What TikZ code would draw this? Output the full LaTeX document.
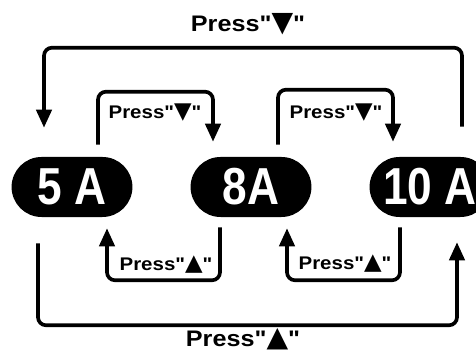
\documentclass[tikz,border=0pt]{standalone}
\usepackage{fontspec}
\setmainfont{Liberation Sans}
\newfontfamily\pillfont{Liberation Sans}[FakeStretch=0.85]
\newfontfamily\pressfont{Liberation Sans}[FakeStretch=1.12]
\newfontfamily\symfont{DejaVu Sans}
\usepackage{tikz}
\usetikzlibrary{arrows.meta}
\usetikzlibrary{positioning,shapes.misc}
\tikzset{
    amps/.style={
        rounded rectangle,
        fill=black,
        text=white,
        minimum width=3.02cm,
        minimum height=1.5cm,
        inner sep=0pt,
        font=\pillfont\bfseries\fontsize{37}{40}\selectfont
    },
    pressbig/.style={
        inner sep=0pt,
        font=\pressfont\bfseries\fontsize{16}{18}\selectfont
    },
    presssmall/.style={
        inner sep=0pt,
        font=\pressfont\bfseries\fontsize{13}{15}\selectfont
    },
    loopline/.style={
        draw,
        line width=2.6pt,
        rounded corners=0.2cm,
        -{Triangle[length=0.45cm, width=0.38cm]}
    }
}
\newcommand{\dn}{\scalebox{1.25}{\symfont\bfseries\char"25BC}}
\newcommand{\up}{\scalebox{1.25}{\symfont\bfseries\char"25B2}}

\begin{document}
\begin{tikzpicture}[x=0.025cm, y=-0.025cm] % one unit = one pixel of the reference
  \useasboundingbox (0,0) rectangle (476,352);

  % current settings
  \node[amps] (a5) at (72,187) {5 A};
  \node[amps] (a8) at (251,187) {8A};
  \node[amps] (a10) at (430,187) {10 A};

  % labels
  \node[pressbig] (ltop) at (248,24) {Press"\dn"};
  \node[presssmall] (ltop1) at (155,113) {Press"\dn"};
  \node[presssmall] (ltop2) at (336,113) {Press"\dn"};
  \node[presssmall] (lbot1) at (166,265) {Press"\up"};
  \node[presssmall] (lbot2) at (345,264) {Press"\up"};
  \node[pressbig] (lbot) at (243,339) {Press"\up"};

  % press down: step forward
  \draw[loopline] ([shift={(26,-12)}]a5.north) -- ++(0,-53) -| ([shift={(-38,-15)}]a8.north);
  \draw[loopline] ([shift={(27,-12)}]a8.north) -- ++(0,-55) -| ([shift={(-37,-15)}]a10.north);
  \draw[loopline] ([shift={(32,-30)}]a10.north) -- ++(0,-79) -| ([shift={(-28,-29)}]a5.north);

  % press up: step back
  \draw[loopline] ([shift={(-31,10)}]a8.south) -- ++(0,53) -| ([shift={(35,11)}]a5.south);
  \draw[loopline] ([shift={(-30,10)}]a10.south) -- ++(0,53) -| ([shift={(36,11)}]a8.south);
  \draw[loopline] ([shift={(-34,26)}]a5.south) -- ++(0,82) -| ([shift={(27,25)}]a10.south);
\end{tikzpicture}
\end{document}
